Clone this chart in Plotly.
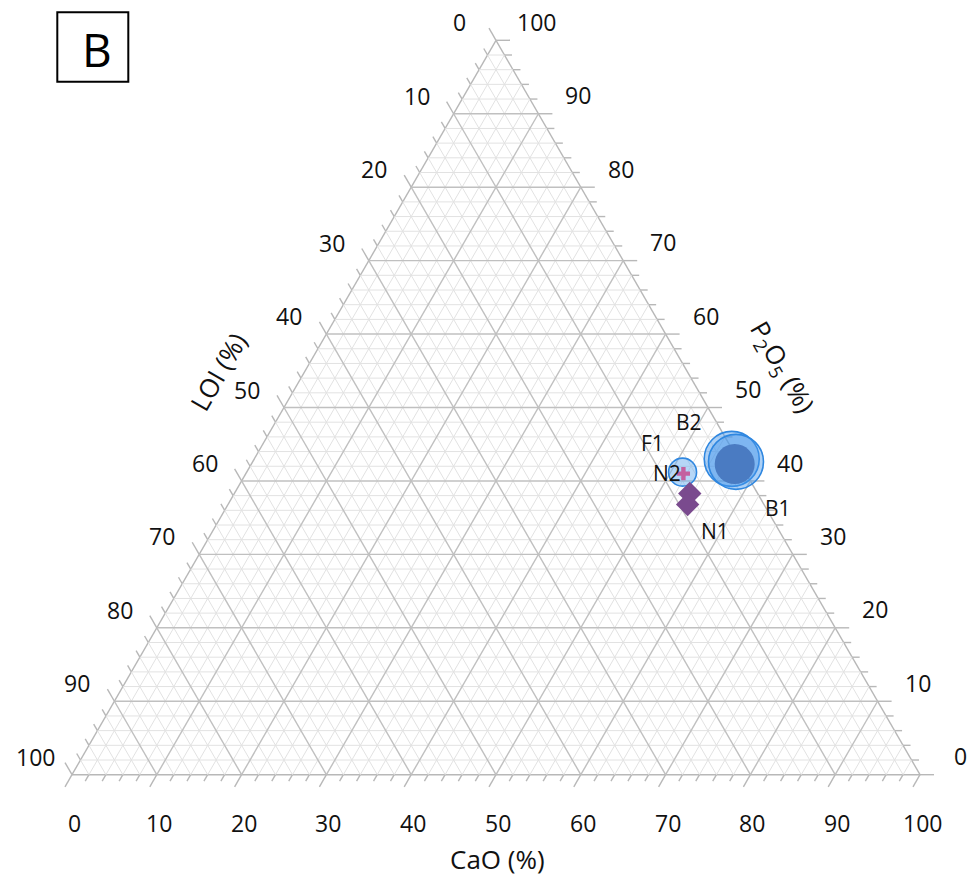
import math
import plotly.graph_objects as go

# ---------------------------------------------------------------
# Page / triangle geometry (pixels)
# ---------------------------------------------------------------
FIG_W, FIG_H = 971, 879
TRI_X0, TRI_X1 = 72.0, 920.0        # left / right vertex
TRI_BASE = 774.7                    # baseline, measured from the top
SIDE = TRI_X1 - TRI_X0
S3 = math.sqrt(3) / 2
TRI_H = SIDE * S3
UNIT = SIDE / 100.0                 # pixels per 1 % of composition

# ---------------------------------------------------------------
# Sample compositions (wt %)
# ---------------------------------------------------------------
b2_p2o5 = [43.0, 42.6]
b2_cao = [56.3, 57.0]
b2_loi = [0.7, 0.4]

b1_p2o5 = [42.3]
b1_cao = [57.0]
b1_loi = [0.7]

f1_p2o5 = [41.2]
f1_cao = [51.4]
f1_loi = [7.4]

n2_p2o5 = [41.0]
n2_cao = [51.6]
n2_loi = [7.4]

n1_p2o5 = [38.3, 36.8]
n1_cao = [53.7, 54.2]
n1_loi = [8.0, 9.0]

# axis ticks
tick_values = list(range(0, 101, 10))
tick_labels = [str(v) for v in tick_values]
minor_values = [v for v in range(2, 100, 2) if v % 10]
major_values = list(range(10, 100, 10))

TEXT = "#111111"
FONT = "Open Sans, Noto Sans, sans-serif"
MAJOR_GRID = "#c0c0c0"
MINOR_GRID = "#e2e2e2"


def to_xy(p2o5, loi, cao):
    """Ternary composition -> overlay cartesian units (0..100 along the base)."""
    s = p2o5 + loi + cao
    a = 100.0 * p2o5 / s
    c = 100.0 * cao / s
    return c + a / 2.0, a * S3


def iso_lines(values):
    """Constant-value lines for P2O5 (a), LOI (b) and CaO (c)."""
    A, B, C = [], [], []
    for v in values:
        w = 100 - v
        A += [v, v, None]; B += [w, 0, None]; C += [0, w, None]      # P2O5 = v
        A += [w, 0, None]; B += [v, v, None]; C += [0, w, None]      # LOI = v
        A += [w, 0, None]; B += [0, w, None]; C += [v, v, None]      # CaO = v
    return A, B, C


fig = go.Figure()

# ---------------- grid inside the triangle ----------------
for vals, col, wid in ((minor_values, MINOR_GRID, 1), (major_values, MAJOR_GRID, 1.4)):
    A, B, C = iso_lines(vals)
    fig.add_trace(go.Scatterternary(
        a=A, b=B, c=C, mode="lines", connectgaps=False,
        line=dict(color=col, width=wid), hoverinfo="skip", showlegend=False))

# ---------------- samples ----------------
fig.add_trace(go.Scatterternary(
    a=b2_p2o5, b=b2_loi, c=b2_cao, mode="markers", name="B2", cliponaxis=False,
    marker=dict(symbol="circle", size=55, color="rgba(70,150,235,0.45)",
                line=dict(color="#2f87e0", width=1.6)),
    showlegend=False))
fig.add_trace(go.Scatterternary(
    a=b1_p2o5, b=b1_loi, c=b1_cao, mode="markers", name="B1", cliponaxis=False,
    marker=dict(symbol="circle", size=40, color="#4a7bc2",
                line=dict(width=0)),
    showlegend=False))
fig.add_trace(go.Scatterternary(
    a=f1_p2o5, b=f1_loi, c=f1_cao, mode="markers", name="F1", cliponaxis=False,
    marker=dict(symbol="circle", size=28, color="rgba(110,175,240,0.5)",
                line=dict(color="#2f87e0", width=1.6)),
    showlegend=False))
fig.add_trace(go.Scatterternary(
    a=n1_p2o5, b=n1_loi, c=n1_cao, mode="markers", name="N1", cliponaxis=False,
    marker=dict(symbol="diamond", size=18, color="#7a4a8e", line=dict(width=0)),
    showlegend=False))
fig.add_trace(go.Scatterternary(
    a=n2_p2o5, b=n2_loi, c=n2_cao, mode="markers", name="N2", cliponaxis=False,
    marker=dict(symbol="cross", size=11, color="#c4619f", line=dict(width=0)),
    showlegend=False))

# ---------------- outer tick marks (overlay cartesian axes) ----------------
tx, ty = [], []
for v in range(0, 101, 2):
    L = (14.0 if v % 10 == 0 else 7.5) / UNIT
    # CaO along the base, ticks run down-left
    tx += [v, v - 0.5 * L, None]
    ty += [0, -S3 * L, None]
    # LOI along the left side, ticks run up-left
    a = 100 - v
    x0, y0 = a / 2.0, a * S3
    tx += [x0, x0 - 0.5 * L, None]
    ty += [y0, y0 + S3 * L, None]
    # P2O5 along the right side, ticks run right
    x0, y0 = 100 - v / 2.0, v * S3
    tx += [x0, x0 + L, None]
    ty += [y0, y0, None]

fig.add_trace(go.Scatter(
    x=tx, y=ty, mode="lines", line=dict(color="#b8b8b8", width=1.4),
    hoverinfo="skip", showlegend=False, xaxis="x", yaxis="y"))

annotations = []
tick_font = dict(family=FONT, size=23, color=TEXT)
for v, t in zip(tick_values, tick_labels):
    annotations.append(dict(x=v, y=0, xref="x", yref="y", text=t, showarrow=False,
                            xshift=2, yshift=-48, font=tick_font))
    a = 100 - v
    annotations.append(dict(x=a / 2.0, y=a * S3, xref="x", yref="y", text=t,
                            showarrow=False, xshift=-37, yshift=18, font=tick_font))
    annotations.append(dict(x=100 - v / 2.0, y=v * S3, xref="x", yref="y", text=t,
                            showarrow=False, xshift=40, yshift=18.4, font=tick_font))

# ---------------- sample labels ----------------
lab_font = dict(family=FONT, size=21, color=TEXT)
sample_labels = [
    ("B2", to_xy(b2_p2o5[0], b2_loi[0], b2_cao[0]), -43, 37),
    ("B1", to_xy(b1_p2o5[0], b1_loi[0], b1_cao[0]), 43, -44),
    ("F1", to_xy(f1_p2o5[0], f1_loi[0], f1_cao[0]), -30, 29),
    ("N2", to_xy(n2_p2o5[0], n2_loi[0], n2_cao[0]), -16, 1),
    ("N1", to_xy(n1_p2o5[0], n1_loi[0], n1_cao[0]), 25, -38),
]
for text, (x, y), dx, dy in sample_labels:
    annotations.append(dict(x=x, y=y, xref="x", yref="y", text=text, showarrow=False,
                            xanchor="center", yanchor="middle",
                            xshift=dx, yshift=dy, font=lab_font))


def paper(px, py):
    return px / FIG_W, 1 - py / FIG_H


title_font = dict(family=FONT, size=26, color=TEXT)
for text, (px, py), ang in (
        ("CaO (%)", (497, 859), 0),
        ("LOI (%)", (218, 372), -60),
        ("P<sub>2</sub>O<sub>5</sub> (%)", (782, 367), 60)):
    x, y = paper(px, py)
    annotations.append(dict(x=x, y=y, xref="paper", yref="paper", text=text,
                            textangle=ang, showarrow=False, xanchor="center",
                            yanchor="middle", font=title_font))

# panel letter
bx, by = paper(97, 49)
annotations.append(dict(x=bx, y=by, xref="paper", yref="paper", text="B",
                        showarrow=False, xanchor="center", yanchor="middle",
                        font=dict(family=FONT, size=46, color="#000000")))
bx0, by0 = paper(57.3, 12.3)
bx1, by1 = paper(128.3, 81.7)

# ternary subplot placed so that its triangle spans TRI_X0..TRI_X1
cy = 1 - (TRI_BASE - TRI_H / 2) / FIG_H
axis_common = dict(showgrid=False, showticklabels=False, ticks="", title=dict(text=""),
                   linecolor="#b8b8b8", linewidth=1.4, showline=True,
                   layer="below traces")

fig.update_layout(
    width=FIG_W, height=FIG_H,
    margin=dict(l=0, r=0, t=0, b=0),
    paper_bgcolor="white", plot_bgcolor="white",
    showlegend=False,
    ternary=dict(
        sum=100,
        bgcolor="white",
        domain=dict(x=[TRI_X0 / FIG_W, TRI_X1 / FIG_W], y=[cy - 0.43, cy + 0.43]),
        aaxis=axis_common, baxis=axis_common, caxis=axis_common,
    ),
    xaxis=dict(domain=[0, 1], range=[-TRI_X0 / UNIT, (FIG_W - TRI_X0) / UNIT],
               autorange=False, visible=False, fixedrange=True),
    yaxis=dict(domain=[0, 1], range=[-(FIG_H - TRI_BASE) / UNIT, TRI_BASE / UNIT],
               autorange=False, visible=False, fixedrange=True),
    annotations=annotations,
    shapes=[dict(type="rect", xref="paper", yref="paper", x0=bx0, y0=by1, x1=bx1, y1=by0,
                 line=dict(color="#000000", width=2))],
)

fig.write_html("out.html", config={"displayModeBar": False})
